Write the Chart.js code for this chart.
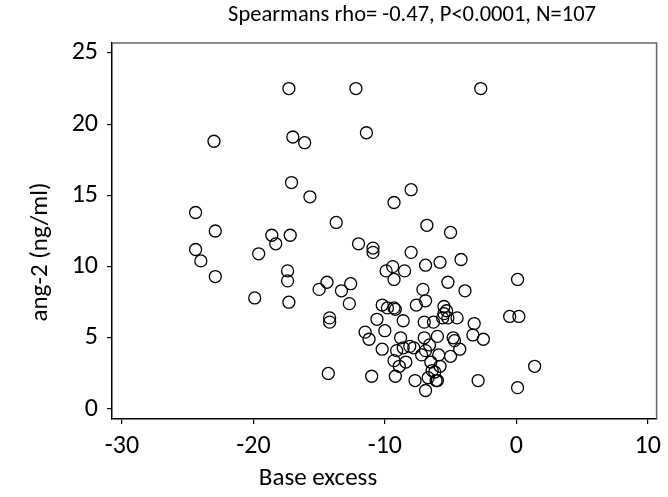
<!DOCTYPE html>
<html>
<head>
<meta charset="utf-8">
<script src="https://cdn.jsdelivr.net/npm/chart.js@4/dist/chart.umd.min.js"></script>
<style>
  html, body { margin: 0; padding: 0; background: #fff; }
  #wrap { width: 668px; height: 497px; }
</style>
</head>
<body>
<div id="wrap"><canvas id="scatter" width="668" height="497"></canvas></div>
<script>
const titleText = 'Spearmans rho= -0.47, P<0.0001, N=107';
const xLabel = 'Base excess';
const yLabel = 'ang-2 (ng/ml)';
const xTicks = [-30, -20, -10, 0, 10];
const yTicks = [0, 5, 10, 15, 20, 25];

const baseExcess = [
  -17.3, -12.2, -2.7, -23.0, -17.0, -16.1, -11.4, -17.1, -15.7, -9.3,
  -8.0, -24.4, -13.7, -6.8, -5.0, -22.9, -18.6, -17.2, -24.4, -24.0,
  -22.9, -18.3, -19.6, -17.4, -17.4, -19.9, -17.3, 0.1, -0.5, 0.2,
  1.4, 0.1, -2.5, -12.0, -10.9, -10.9, -8.0, -5.8, -4.2, -6.9,
  -9.9, -9.4, -8.5, -9.3, -14.4, -15.0, -12.6, -13.3, -12.7, -5.2,
  -3.9, -7.1, -6.9, -7.6, -10.2, -9.8, -9.3, -9.2, -5.5, -5.5,
  -5.6, -5.2, -4.5, -6.3, -7.0, -8.6, -10.6, -14.2, -14.2, -10.0,
  -11.5, -11.2, -3.2, -3.3, -4.8, -4.7, -6.0, -7.0, -8.8, -6.6,
  -10.2, -8.6, -8.1, -7.8, -9.1, -6.9, -7.2, -5.9, -4.3, -5.0,
  -9.3, -8.4, -8.9, -6.5, -5.8, -6.4, -6.2, -14.3, -11.0, -9.2,
  -7.7, -6.7, -6.1, -6.0, -6.9, -2.9, -5.3
];
const ang2 = [
  22.5, 22.5, 22.5, 18.8, 19.1, 18.7, 19.4, 15.9, 14.9, 14.5,
  15.4, 13.8, 13.1, 12.9, 12.4, 12.5, 12.2, 12.2, 11.2, 10.4,
  9.3, 11.6, 10.9, 9.7, 9.0, 7.8, 7.5, 9.1, 6.5, 6.5,
  3.0, 1.5, 4.9, 11.6, 11.3, 11.0, 11.0, 10.3, 10.5, 10.1,
  9.7, 10.0, 9.7, 9.1, 8.9, 8.4, 8.8, 8.3, 7.4, 8.9,
  8.3, 8.4, 7.6, 7.3, 7.3, 7.1, 7.1, 7.0, 7.2, 6.7,
  6.4, 6.4, 6.4, 6.1, 6.1, 6.2, 6.3, 6.4, 6.1, 5.5,
  5.4, 4.9, 6.0, 5.2, 5.0, 4.8, 5.1, 5.0, 5.0, 4.5,
  4.2, 4.3, 4.4, 4.3, 4.1, 4.1, 3.8, 3.8, 4.2, 3.7,
  3.4, 3.3, 3.0, 3.3, 3.0, 2.7, 2.6, 2.5, 2.3, 2.3,
  2.0, 2.2, 2.0, 2.0, 1.3, 2.0, 6.9
];

const points = baseExcess.map((x, i) => ({ x: x, y: ang2[i] }));

const FONT = "Carlito, 'Open Sans', sans-serif";

// frame on top/right plus title and axis labels, placed like the original figure
const framePlugin = {
  id: 'frame',
  afterDraw(chart) {
    const { ctx, chartArea: a } = chart;
    ctx.save();
    ctx.strokeStyle = '#666';
    ctx.lineWidth = 1.5;
    ctx.beginPath();
    ctx.moveTo(a.left, a.top);
    ctx.lineTo(a.right, a.top);
    ctx.lineTo(a.right, a.bottom);
    ctx.stroke();

    ctx.fillStyle = '#000';
    ctx.textAlign = 'center';
    ctx.textBaseline = 'middle';
    ctx.font = '22.5px ' + FONT;
    ctx.fillText(titleText, 412, 15);

    ctx.font = '25px ' + FONT;
    ctx.fillText(xLabel, 318, 479);

    ctx.translate(41, 252);
    ctx.rotate(-Math.PI / 2);
    ctx.fillText(yLabel, 0, 0);
    ctx.restore();
  }
};

new Chart(document.getElementById('scatter'), {
  type: 'scatter',
  data: {
    datasets: [{
      data: points,
      pointStyle: 'circle',
      pointRadius: 6,
      pointHoverRadius: 6,
      pointBorderWidth: 1.3,
      pointBorderColor: '#000',
      pointBackgroundColor: 'rgba(0,0,0,0)',
    }],
  },
  options: {
    responsive: false,
    animation: false,
    layout: { padding: { top: 43, right: 10, bottom: 0, left: 0 } },
    plugins: { legend: { display: false }, tooltip: { enabled: false } },
    scales: {
      x: {
        type: 'linear',
        min: -30.76,
        max: 10.68,
        afterBuildTicks: (s) => { s.ticks = xTicks.map((v) => ({ value: v })); },
        afterFit: (s) => { s.height = 78; },
        grid: { drawOnChartArea: false, drawTicks: true, tickLength: 5, color: '#000', lineWidth: 1.2 },
        border: { display: true, color: '#000', width: 1.5 },
        ticks: { color: '#000', padding: 7, maxRotation: 0, font: { family: FONT, size: 26 } },
      },
      y: {
        type: 'linear',
        min: -0.7,
        max: 25.7,
        afterBuildTicks: (s) => { s.ticks = yTicks.map((v) => ({ value: v })); },
        afterFit: (s) => { s.width = 112; },
        grid: { drawOnChartArea: false, drawTicks: true, tickLength: 5, color: '#000', lineWidth: 1.2 },
        border: { display: true, color: '#000', width: 1.5 },
        ticks: { color: '#000', padding: 9, font: { family: FONT, size: 26 } },
      },
    },
  },
  plugins: [framePlugin],
});
</script>
</body>
</html>
